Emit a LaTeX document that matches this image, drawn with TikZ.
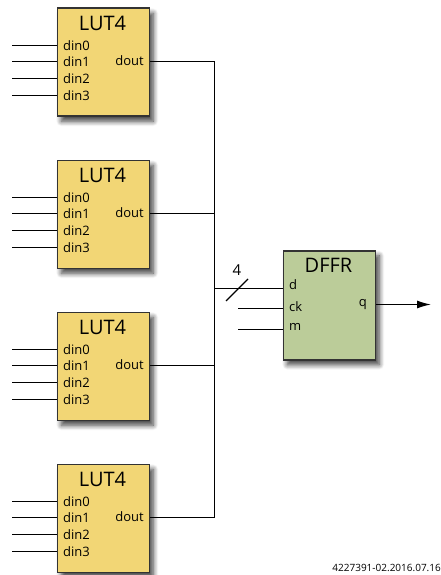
\documentclass[tikz,border=0pt]{standalone}
\usepackage{fontspec}
\setmainfont{Open Sans}
\usepackage{xcolor}
\usetikzlibrary{shadows.blur, arrows.meta}
\definecolor{lutfill}{HTML}{F2D675}
\definecolor{ffrfill}{HTML}{BBCC99}
\definecolor{boxline}{HTML}{333333}
\tikzset{
    block/.style={draw=boxline, line width=1.5pt, minimum width=92pt, anchor=north west, inner sep=0pt,
        blur shadow={shadow xshift=4pt, shadow yshift=-5pt, shadow blur steps=8, shadow blur radius=5pt, shadow opacity=75}},
    title/.style={font=\fontsize{20}{20}\selectfont, inner sep=0pt, text=black},
    pinname/.style={font=\fontsize{13}{13}\selectfont, inner sep=0pt, text=black},
    wire/.style={line width=1.2pt, black},
}
\begin{document}
\begin{tikzpicture}[x=1pt, y=-1pt]
    \useasboundingbox (0,0) rectangle (441,575);
    % four lookup tables
    \foreach \n/\top in {1/7.5, 2/159.5, 3/311.5, 4/463.5} {
        \node[block, fill=lutfill, minimum height=108pt] (lut\n) at (56.5,\top) {};
        \node[title] (lutname\n) at (102.5,\top+16) {LUT4};
        \foreach \i/\dy in {0/38, 1/54, 2/71, 3/88} {
            \node[pinname, anchor=west] (din\n\i) at (63,\top+\dy) {din\i};
            \coordinate (wire\n\i) at (12,\top+\dy);
            \draw[wire] (wire\n\i) -- (wire\n\i -| lut\n.west);
        }
        \node[pinname, anchor=east] (dout\n) at (144,\top+53) {dout};
        \coordinate (join\n) at (214.5,\top+54);
        \draw[wire] (lut\n.east |- join\n) -- (join\n);
    }
    \draw[wire] (join1) -- (join4);
    % flip-flop
    \node[block, fill=ffrfill, minimum height=109pt] (dffr) at (282.5,250) {};
    \node[title] (dffrname) at (328.5,265.5) {DFFR};
    \node[pinname, anchor=west] (d) at (289,285) {d};
    \node[pinname, anchor=west] (ck) at (289,307) {ck};
    \node[pinname, anchor=west] (m) at (289,327) {m};
    \node[pinname, anchor=east] (q) at (367,305) {q};
    \coordinate (bustap) at (214.5,288.5);
    \coordinate (ckin) at (238,308.5);
    \coordinate (min) at (238,329.5);
    \coordinate (qout) at (431,304.5);
    \draw[wire] (bustap) -- (bustap -| dffr.west);
    \draw[wire] (ckin) -- (ckin -| dffr.west);
    \draw[wire] (min) -- (min -| dffr.west);
    \draw[wire, -{Latex[length=14pt, width=8pt]}] (qout -| dffr.east) -- (qout);
    % bus width mark
    \coordinate (slasha) at (226,301);
    \coordinate (slashb) at (248,279);
    \draw[wire] (slasha) -- (slashb);
    \node[font=\fontsize{15}{15}\selectfont, inner sep=0pt, text=black] (width) at (237,270.5) {4};
    \node[font=\fontsize{10}{10}\selectfont, inner sep=0pt, anchor=east] (partno) at (441,567.5) {4227391-02.2016.07.16};
\end{tikzpicture}
\end{document}
